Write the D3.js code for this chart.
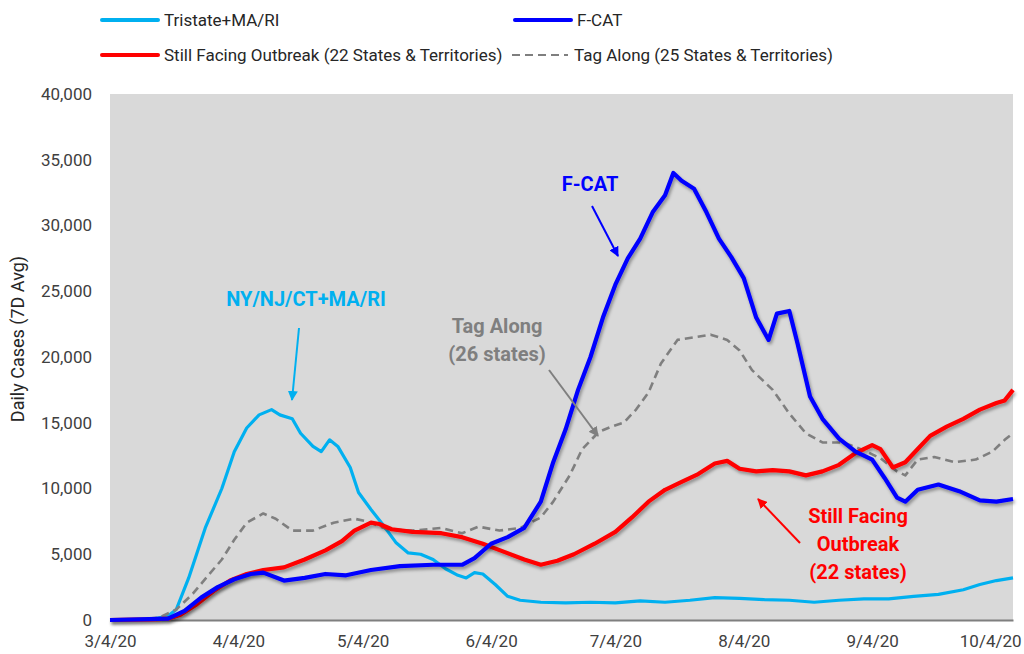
<!DOCTYPE html>
<html lang="en">
<head>
  <meta charset="UTF-8">
  <title>Daily Cases (7D Avg)</title>
  <style>
    body { margin: 0; background: #fff; }
    #main { width: 1024px; height: 654px; }
    text { font-family: Roboto, "Liberation Sans", sans-serif; }
  </style>
</head>
<body>
  <div id="main"></div>
  <script src="https://d3js.org/d3.v7.min.js"></script>
  <script>
    // data (7 day avg daily cases)
    const tristateDates = ['3/4/20','3/14/20','3/18/20','3/20/20','3/23/20','3/27/20','3/31/20','4/3/20','4/6/20','4/9/20','4/12/20','4/14/20','4/17/20','4/19/20','4/22/20','4/24/20','4/26/20','4/28/20','5/1/20','5/3/20','5/6/20','5/9/20','5/12/20','5/15/20','5/18/20','5/21/20','5/24/20','5/27/20','5/29/20','5/31/20','6/2/20','6/5/20','6/8/20','6/11/20','6/16/20','6/22/20','6/28/20','7/4/20','7/10/20','7/16/20','7/22/20','7/28/20','8/3/20','8/9/20','8/15/20','8/21/20','8/27/20','9/2/20','9/8/20','9/14/20','9/20/20','9/26/20','9/30/20','10/4/20','10/8/20']
    const tristateValues = [0,50,300,800,3200,7000,10000,12800,14600,15600,16000,15600,15300,14200,13200,12800,13700,13200,11600,9700,8400,7200,5900,5100,5000,4600,3900,3400,3200,3600,3500,2700,1800,1500,1350,1300,1350,1300,1450,1350,1500,1700,1650,1550,1500,1350,1500,1600,1600,1800,1950,2300,2700,3000,3200]

    const fcatDates = ['3/4/20','3/18/20','3/22/20','3/26/20','3/30/20','4/3/20','4/7/20','4/10/20','4/15/20','4/20/20','4/25/20','4/30/20','5/6/20','5/13/20','5/21/20','5/28/20','5/31/20','6/4/20','6/8/20','6/12/20','6/16/20','6/19/20','6/22/20','6/25/20','6/28/20','7/1/20','7/4/20','7/7/20','7/10/20','7/13/20','7/16/20','7/18/20','7/20/20','7/23/20','7/26/20','7/29/20','8/1/20','8/4/20','8/7/20','8/10/20','8/12/20','8/15/20','8/17/20','8/20/20','8/23/20','8/27/20','8/31/20','9/4/20','9/7/20','9/10/20','9/12/20','9/15/20','9/20/20','9/25/20','9/30/20','10/4/20','10/8/20']
    const fcatValues = [0,100,700,1700,2500,3100,3500,3600,3000,3200,3500,3400,3800,4100,4200,4200,4700,5800,6300,7000,9000,12000,14500,17500,20000,23000,25500,27500,29000,31000,32300,34000,33400,32800,31000,29000,27600,26000,23000,21300,23300,23500,21000,17000,15300,13800,12800,12200,10800,9300,9000,9900,10300,9800,9100,9000,9200]

    const stillDates = ['3/4/20','3/14/20','3/18/20','3/21/20','3/25/20','3/29/20','4/2/20','4/6/20','4/10/20','4/15/20','4/20/20','4/25/20','4/29/20','5/2/20','5/6/20','5/8/20','5/11/20','5/16/20','5/23/20','5/28/20','6/2/20','6/7/20','6/12/20','6/16/20','6/20/20','6/24/20','6/29/20','7/4/20','7/8/20','7/12/20','7/16/20','7/20/20','7/24/20','7/28/20','7/31/20','8/3/20','8/7/20','8/11/20','8/15/20','8/19/20','8/23/20','8/27/20','8/31/20','9/4/20','9/6/20','9/9/20','9/12/20','9/15/20','9/18/20','9/22/20','9/26/20','9/30/20','10/4/20','10/6/20','10/8/20']
    const stillValues = [0,50,100,400,1200,2200,3000,3500,3800,4000,4600,5300,6000,6800,7400,7300,6900,6700,6600,6300,5800,5200,4600,4200,4500,5000,5800,6700,7800,9000,9900,10500,11100,11900,12100,11500,11300,11400,11300,11000,11300,11800,12700,13300,13000,11600,12000,13000,14000,14700,15300,16000,16500,16700,17500]

    const tagDates = ['3/4/20','3/12/20','3/16/20','3/20/20','3/24/20','3/28/20','3/31/20','4/3/20','4/6/20','4/10/20','4/13/20','4/17/20','4/22/20','4/27/20','5/2/20','5/5/20','5/10/20','5/16/20','5/23/20','5/28/20','6/1/20','6/6/20','6/11/20','6/16/20','6/19/20','6/23/20','6/26/20','6/30/20','7/3/20','7/6/20','7/9/20','7/12/20','7/15/20','7/19/20','7/23/20','7/27/20','7/31/20','8/3/20','8/6/20','8/11/20','8/15/20','8/19/20','8/23/20','8/28/20','9/2/20','9/6/20','9/10/20','9/12/20','9/15/20','9/19/20','9/24/20','9/29/20','10/3/20','10/6/20','10/8/20']
    const tagValues = [0,50,200,800,2000,3500,4600,6100,7400,8100,7700,6800,6800,7400,7700,7500,6900,6800,7000,6600,7100,6800,7000,7800,9000,11000,13000,14300,14700,15000,16000,17300,19500,21300,21500,21700,21300,20500,19000,17500,15700,14200,13500,13500,12900,12300,11300,11000,12200,12400,12000,12200,12800,13700,14200]

    const xTickLabels = ['3/4/20','4/4/20','5/4/20','6/4/20','7/4/20','8/4/20','9/4/20','10/4/20']
    const yTicks = [0,5000,10000,15000,20000,25000,30000,35000,40000]
    const xDomain = ['3/4/20','10/8/20']

    const parse = d3.timeParse('%m/%d/%y')
    const zip = (dates, values) => dates.map((d, i) => ({ date: parse(d), value: values[i] }))

    const series = [
      { name: 'Tristate+MA/RI', data: zip(tristateDates, tristateValues), color: '#00b0f0', width: 3.2, dash: null, shadow: false },
      { name: 'Tag Along (25 States & Territories)', data: zip(tagDates, tagValues), color: '#7f7f7f', width: 2.6, dash: '8,5', shadow: false },
      { name: 'Still Facing Outbreak (22 States & Territories)', data: zip(stillDates, stillValues), color: '#ff0000', width: 4.2, dash: null, shadow: true },
      { name: 'F-CAT', data: zip(fcatDates, fcatValues), color: '#0000ff', width: 4.2, dash: null, shadow: true }
    ]

    const [width, height] = [1024, 654]
    const margin = { top: 94, right: 11, bottom: 34, left: 110 }

    const svg = d3.select('#main').append('svg')
      .attr('width', width)
      .attr('height', height)

    const defs = svg.append('defs')
    defs.append('filter').attr('id', 'shadow')
      .attr('x', '-5%').attr('y', '-5%').attr('width', '110%').attr('height', '110%')
      .append('feDropShadow')
      .attr('dx', 1.5).attr('dy', 2.5).attr('stdDeviation', 1.6)
      .attr('flood-color', '#000').attr('flood-opacity', 0.35)

    const xScale = d3.scaleTime()
      .domain(xDomain.map(parse))
      .range([margin.left, width - margin.right])

    const yScale = d3.scaleLinear()
      .domain([0, 40000])
      .range([height - margin.bottom, margin.top])

    // plot background
    svg.append('rect')
      .attr('x', margin.left)
      .attr('y', margin.top)
      .attr('width', width - margin.right - margin.left)
      .attr('height', height - margin.bottom - margin.top)
      .attr('fill', '#d9d9d9')

    // y axis
    const yAxis = svg.append('g')
      .attr('transform', `translate(${margin.left}, 0)`)
      .call(d3.axisLeft(yScale).tickValues(yTicks).tickFormat(d3.format(',')).tickSize(0).tickPadding(18))
    yAxis.select('.domain').remove()
    yAxis.selectAll('text').style('font-size', '17px').attr('fill', '#404040')

    // x axis
    const xAxis = svg.append('g')
      .attr('transform', `translate(0, ${height - margin.bottom})`)
      .call(d3.axisBottom(xScale).tickValues(xTickLabels.map(parse)).tickFormat(d3.timeFormat('%-m/%-d/%y')).tickSize(0).tickPadding(15))
    xAxis.select('.domain').attr('stroke', '#7f7f7f').attr('stroke-width', 2)
    xAxis.selectAll('text').style('font-size', '17px').attr('fill', '#404040')
    // keep the last label inside the picture
    xAxis.selectAll('.tick:last-of-type text').attr('text-anchor', 'end').attr('dx', '1.45em')

    svg.append('text')
      .attr('transform', `translate(24, ${(margin.top + height - margin.bottom) / 2 - 18}) rotate(-90)`)
      .attr('text-anchor', 'middle')
      .style('font-size', '18px')
      .attr('fill', '#262626')
      .text('Daily Cases (7D Avg)')

    // lines
    const line = d3.line()
      .x(d => xScale(d.date))
      .y(d => yScale(d.value))

    svg.append('g').selectAll('path')
      .data(series)
      .join('path')
      .attr('d', d => line(d.data))
      .attr('fill', 'none')
      .attr('stroke', d => d.color)
      .attr('stroke-width', d => d.width)
      .attr('stroke-dasharray', d => d.dash)
      .attr('stroke-linejoin', 'round')
      .attr('filter', d => d.shadow ? 'url(#shadow)' : null)

    // legend
    const legendItems = [
      { s: series[0], x: 102, y: 20 },
      { s: series[3], x: 515, y: 20 },
      { s: series[2], x: 102, y: 55 },
      { s: series[1], x: 512, y: 55 }
    ]
    const legend = svg.append('g').selectAll('g')
      .data(legendItems)
      .join('g')
      .attr('transform', d => `translate(${d.x}, ${d.y})`)
    legend.append('line')
      .attr('x1', 0).attr('x2', 56)
      .attr('stroke', d => d.s.color)
      .attr('stroke-width', d => d.s.dash ? 2.2 : 4)
      .attr('stroke-dasharray', d => d.s.dash ? '8,5' : null)
      .attr('stroke-linecap', d => d.s.dash ? 'butt' : 'round')
    legend.append('text')
      .attr('x', 62)
      .attr('dy', '0.35em')
      .style('font-size', '17px')
      .attr('fill', '#262626')
      .text(d => d.s.name)

    // annotations
    defs.selectAll('marker')
      .data(['#00b0f0', '#7f7f7f', '#0000ff', '#ff0000'])
      .join('marker')
      .attr('id', (d, i) => 'arrow' + i)
      .attr('viewBox', '0 0 10 10')
      .attr('refX', 9).attr('refY', 5)
      .attr('markerWidth', 5).attr('markerHeight', 5)
      .attr('markerUnits', 'strokeWidth')
      .attr('orient', 'auto')
      .append('path')
      .attr('d', 'M0,0L10,5L0,10z')
      .attr('fill', d => d)

    const notes = [
      { lines: ['NY/NJ/CT+MA/RI'], x: 306, y: 306, color: '#00b0f0', arrow: [299, 328, 292, 400], m: 0 },
      { lines: ['Tag Along', '(26 states)'], x: 497, y: 333, color: '#7f7f7f', arrow: [549, 370, 598, 436], m: 1 },
      { lines: ['F-CAT'], x: 590, y: 191, color: '#0000ff', arrow: [592, 206, 618, 256], m: 2 },
      { lines: ['Still Facing', 'Outbreak', '(22 states)'], x: 858, y: 523, color: '#ff0000', arrow: [800, 543, 758, 499], m: 3 }
    ]
    const note = svg.append('g').selectAll('g')
      .data(notes)
      .join('g')
    note.append('line')
      .attr('x1', d => d.arrow[0]).attr('y1', d => d.arrow[1])
      .attr('x2', d => d.arrow[2]).attr('y2', d => d.arrow[3])
      .attr('stroke', d => d.color)
      .attr('stroke-width', 2)
      .attr('marker-end', d => `url(#arrow${d.m})`)
    note.append('text')
      .attr('text-anchor', 'middle')
      .style('font-size', '20px')
      .style('font-weight', 'bold')
      .attr('fill', d => d.color)
      .selectAll('tspan')
      .data(d => d.lines.map((t, i) => ({ t, i, x: d.x, y: d.y })))
      .join('tspan')
      .attr('x', d => d.x)
      .attr('y', d => d.y + d.i * 28)
      .text(d => d.t)
  </script>
</body>
</html>
